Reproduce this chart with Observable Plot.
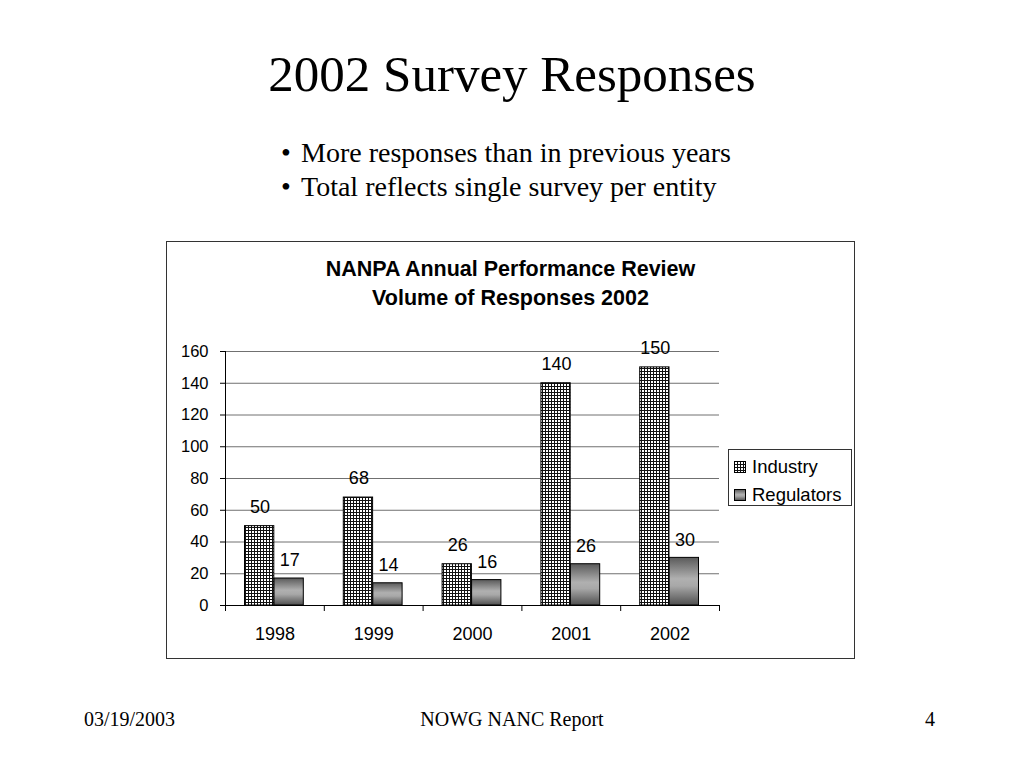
<!DOCTYPE html>
<html><head><meta charset="utf-8">
<script src="https://cdn.jsdelivr.net/npm/d3@7"></script>
<script src="https://cdn.jsdelivr.net/npm/@observablehq/plot@0.6"></script>
<style>
body{margin:0;background:#fff;}
#slide{position:relative;width:1024px;height:768px;overflow:hidden;font-family:"Liberation Serif","Times New Roman",serif;color:#000;background:#fff;}
#title{position:absolute;left:0;width:1024px;top:44px;height:60px;line-height:60px;text-align:center;font-size:51px;}
.bullet{position:absolute;left:281px;font-size:28px;height:34px;line-height:34px;white-space:nowrap;}
.bullet span{position:absolute;left:20px;}
#box{position:absolute;left:166px;top:241px;width:689px;height:418px;box-sizing:border-box;border:1px solid #333;}
#chart{position:absolute;left:0;top:0;}
#ctitle{position:absolute;left:0;top:13px;width:687px;text-align:center;font-family:"Liberation Sans",Arial,sans-serif;font-weight:bold;font-size:21.5px;line-height:29px;}
#legend{position:absolute;left:561px;top:207px;width:124px;height:57px;box-sizing:border-box;border:1px solid #333;background:#fff;font-family:"Liberation Sans",Arial,sans-serif;font-size:18.5px;}
.lrow{position:absolute;left:5px;height:22px;line-height:22px;white-space:nowrap;}
.lrow svg{position:absolute;left:0;top:5px;}
.lrow span{position:absolute;left:18px;}
.foot{position:absolute;top:708px;height:22px;line-height:22px;font-size:20px;white-space:nowrap;}
</style></head><body>
<div id="slide">
  <div id="title">2002 Survey Responses</div>
  <div class="bullet" style="top:136px">•<span>More responses than in previous years</span></div>
  <div class="bullet" style="top:170px">•<span>Total reflects single survey per entity</span></div>
  <div id="box">
    <div id="chart"></div>
    <div id="ctitle">NANPA Annual Performance Review<br>Volume of Responses 2002</div>
    <div id="legend">
      <div class="lrow" style="top:6px"><svg width="12" height="12"><rect x="0.5" y="0.5" width="11" height="11" fill="url(#gridpatL)" stroke="#000"/></svg><span>Industry</span></div>
      <div class="lrow" style="top:34px"><svg width="12" height="12"><rect x="0.5" y="0.5" width="11" height="11" fill="url(#greygrad)" stroke="#000"/></svg><span>Regulators</span></div>
    </div>
  </div>
  <div class="foot" style="left:84px">03/19/2003</div>
  <div class="foot" style="left:0;width:1024px;text-align:center">NOWG NANC Report</div>
  <div class="foot" style="left:925px">4</div>
</div>
<script>
const years = ["1998", "1999", "2000", "2001", "2002"];
const industry = [50, 68, 26, 140, 150];
const regulators = [17, 14, 16, 26, 30];
const seriesNames = ["Industry", "Regulators"];
const yTicks = [0, 20, 40, 60, 80, 100, 120, 140, 160];

const rows = [];
years.forEach((yr, i) => {
  rows.push({year: yr, idx: i, series: seriesNames[0], value: industry[i]});
  rows.push({year: yr, idx: i, series: seriesNames[1], value: regulators[i]});
});
const ind = rows.filter(d => d.series === "Industry");
const reg = rows.filter(d => d.series === "Regulators");
const font = "Liberation Sans, Arial, sans-serif";

const svg = Plot.plot({
  width: 687, height: 416,
  marginLeft: 58, marginRight: 135, marginTop: 109, marginBottom: 53,
  style: {fontFamily: font, fontSize: "16px", background: "transparent", color: "#000"},
  x: {domain: [0, years.length], axis: null},
  y: {domain: [0, 160], axis: null},
  marks: [
    Plot.ruleY(yTicks.slice(1), {stroke: "#707070", strokeWidth: 1, strokeOpacity: 1}),
    Plot.rectY(ind, {x1: d => d.idx, x2: d => d.idx + 1, y1: 0, y2: "value", insetLeft: 19.5, insetRight: 50, fill: "url(#gridpat)", stroke: "#000", strokeWidth: 1}),
    Plot.rectY(reg, {x1: d => d.idx, x2: d => d.idx + 1, y1: 0, y2: "value", insetLeft: 49, insetRight: 20.5, fill: "url(#greygrad)", stroke: "#000", strokeWidth: 1}),
    Plot.text(ind, {x: d => d.idx + 0.35, y: "value", text: d => String(d.value), dy: -19, fontSize: 18}),
    Plot.text(reg, {x: d => d.idx + 0.65, y: "value", text: d => String(d.value), dy: -18, fontSize: 18}),
    Plot.axisY({ticks: yTicks, tickSize: 5, tickPadding: 12, fontSize: 16.5, anchor: "left", label: null}),
    Plot.ruleX([0], {stroke: "#000"}),
    Plot.ruleY([0], {stroke: "#000"}),
    Plot.axisX({ticks: d3.range(0, years.length + 1), tickSize: 6, tickFormat: () => "", anchor: "bottom", label: null}),
    Plot.text(years, {x: (d, i) => i + 0.5, y: 0, dy: 29, fontSize: 18, text: d => d})
  ]
});

const defs = d3.select(svg).insert("defs", ":first-child");
const pat = defs.append("pattern").attr("id", "gridpat").attr("patternUnits", "userSpaceOnUse").attr("width", 3).attr("height", 3);
pat.append("rect").attr("width", 3).attr("height", 3).attr("fill", "#fff");
pat.append("path").attr("d", "M0 0.5H3M0.5 0V3").attr("stroke", "#111").attr("stroke-width", 1);
const grad = defs.append("linearGradient").attr("id", "greygrad").attr("x1", 0).attr("y1", 0).attr("x2", 0).attr("y2", 1);
[[0, "#5a5a5a"], [0.45, "#b0b0b0"], [0.6, "#a8a8a8"], [1, "#505050"]].forEach(([o, c]) =>
  grad.append("stop").attr("offset", o).attr("stop-color", c));
document.getElementById("chart").appendChild(svg);

// legend swatch pattern (small inline svg)
const ls = d3.select("#legend svg").insert("defs", ":first-child");
const pl = ls.append("pattern").attr("id", "gridpatL").attr("patternUnits", "userSpaceOnUse").attr("width", 3).attr("height", 3);
pl.append("rect").attr("width", 3).attr("height", 3).attr("fill", "#fff");
pl.append("path").attr("d", "M0 0.5H3M0.5 0V3").attr("stroke", "#111").attr("stroke-width", 1);
</script>
</body></html>
